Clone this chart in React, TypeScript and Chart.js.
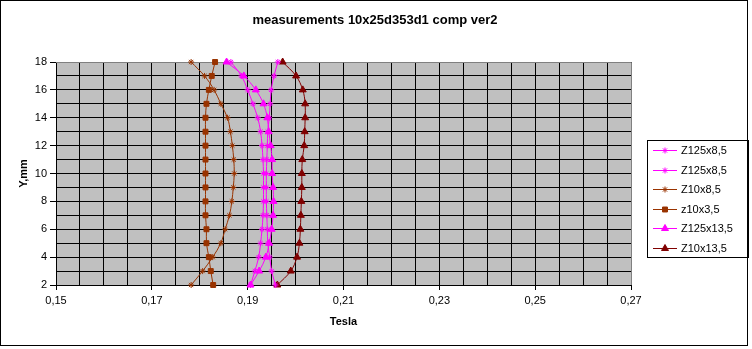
import React, { useEffect, useRef } from 'react';
import { Chart, registerables } from 'chart.js';
import { drawPoint } from 'chart.js/helpers';

Chart.register(...registerables);

// Y positions (mm) shared by all series
const yValues = [2, 3, 4, 5, 6, 7, 8, 9, 10, 11, 12, 13, 14, 15, 16, 17, 18];

// Tesla readings for each series, listed for Y = 2 .. 18
const z125x85a = [0.1906, 0.1915, 0.1923, 0.1927, 0.193, 0.1932, 0.1933, 0.1933, 0.1933, 0.1932, 0.193, 0.1927, 0.1921, 0.1911, 0.19, 0.1887, 0.1865];
const z125x85b = [0.1958, 0.195, 0.1946, 0.1942, 0.1941, 0.194, 0.1939, 0.1939, 0.1939, 0.194, 0.1941, 0.1942, 0.1945, 0.1947, 0.1949, 0.1955, 0.1963];
const z10x85 = [0.1782, 0.1806, 0.1827, 0.1844, 0.1853, 0.1862, 0.1867, 0.187, 0.1872, 0.1871, 0.1868, 0.1864, 0.1858, 0.1844, 0.183, 0.181, 0.1782];
const z10x35 = [0.1828, 0.1823, 0.1819, 0.1814, 0.1814, 0.1812, 0.1812, 0.1812, 0.1812, 0.1812, 0.1812, 0.1812, 0.1812, 0.1814, 0.1819, 0.1825, 0.1832];
const z125x135 = [0.1906, 0.1924, 0.1938, 0.1945, 0.195, 0.1953, 0.1954, 0.1953, 0.1951, 0.1951, 0.1948, 0.1944, 0.1941, 0.1933, 0.1917, 0.1892, 0.1856];
const z10x135 = [0.1962, 0.199, 0.2003, 0.2008, 0.201, 0.2011, 0.2012, 0.2013, 0.2013, 0.2014, 0.2018, 0.2019, 0.202, 0.202, 0.2015, 0.2001, 0.1973];

const chartTitle = 'measurements 10x25d353d1 comp ver2';
const seriesNames = ['Z125x8,5', 'Z125x8,5', 'Z10x8,5', 'z10x3,5', 'Z125x13,5', 'Z10x13,5'];
const seriesValues = [z125x85a, z125x85b, z10x85, z10x35, z125x135, z10x135];
const seriesColors = ['#FF00FF', '#FF00FF', '#993300', '#993300', '#FF00FF', '#800000'];
const seriesMarkers = ['star', 'star', 'star', 'rect', 'triangle', 'triangle'];
const seriesMarkerSizes = [3, 3, 3, 3.5, 4, 4];

// axis ticks
const xMajorTicks = [0.15, 0.17, 0.19, 0.21, 0.23, 0.25, 0.27];
const xTickLabels = ['0,15', '0,17', '0,19', '0,21', '0,23', '0,25', '0,27'];
const yMajorTicks = [2, 4, 6, 8, 10, 12, 14, 16, 18];
const yTickLabels = ['2', '4', '6', '8', '10', '12', '14', '16', '18'];

const FONT = "'Liberation Sans', Arial, sans-serif";

function majorIndex(list: number[], v: number) {
  return list.findIndex((m) => Math.abs(m - v) < 1e-6);
}

export default function App() {
  const ref = useRef<HTMLCanvasElement | null>(null);

  useEffect(() => {
    if (!ref.current) return;
    Chart.defaults.font.family = FONT;
    Chart.defaults.font.size = 11;
    Chart.defaults.color = '#000';

    const bgPlugin = {
      id: 'bgPlugin',
      beforeDraw(chart: any) {
        const { ctx, chartArea } = chart;
        ctx.save();
        ctx.fillStyle = '#FFFFFF';
        ctx.fillRect(0, 0, chart.width, chart.height);
        ctx.fillStyle = '#C0C0C0';
        ctx.fillRect(chartArea.left, chartArea.top, chartArea.right - chartArea.left, chartArea.bottom - chartArea.top);
        ctx.restore();
      },
      beforeDatasetsDraw(chart: any) {
        const { ctx, chartArea } = chart;
        ctx.save();
        ctx.strokeStyle = '#808080';
        ctx.lineWidth = 1;
        ctx.beginPath();
        ctx.moveTo(chartArea.left, Math.round(chartArea.top) + 0.5);
        ctx.lineTo(Math.round(chartArea.right) + 0.5, Math.round(chartArea.top) + 0.5);
        ctx.lineTo(Math.round(chartArea.right) + 0.5, chartArea.bottom);
        ctx.stroke();
        ctx.restore();
      },
      afterDraw(chart: any) {
        const { ctx } = chart;
        ctx.save();
        // title
        ctx.fillStyle = '#000';
        ctx.font = `bold 13px ${FONT}`;
        ctx.textAlign = 'center';
        ctx.textBaseline = 'middle';
        ctx.fillText(chartTitle, 375, 20);
        // outer frame
        ctx.strokeStyle = '#000';
        ctx.lineWidth = 1;
        ctx.strokeRect(0.5, 0.5, 747, 345);
        // legend
        ctx.strokeRect(647.5, 140.5, 101, 117);
        chart.data.datasets.forEach((ds: any, i: number) => {
          const y = Math.round(150 + i * 19.5) + 0.5;
          ctx.strokeStyle = ds.borderColor;
          ctx.fillStyle = ds.backgroundColor;
          ctx.lineWidth = 1;
          ctx.beginPath();
          ctx.moveTo(653, y);
          ctx.lineTo(677, y);
          ctx.stroke();
          drawPoint(ctx, { pointStyle: ds.pointStyle, radius: ds.pointRadius, borderWidth: 1, rotation: 0 } as any, 665, y);
          ctx.fillStyle = '#000';
          ctx.font = `11px ${FONT}`;
          ctx.textBaseline = 'middle';
          ctx.textAlign = 'left';
          ctx.fillText(ds.label, 681, y);
        });
        ctx.restore();
      },
    };

    const datasets = seriesNames.map((name, i) => ({
      label: name,
      data: yValues.map((y, k) => ({ x: seriesValues[i][k], y })),
      borderColor: seriesColors[i],
      backgroundColor: seriesColors[i],
      borderWidth: 1,
      pointStyle: seriesMarkers[i],
      pointRadius: seriesMarkerSizes[i],
      pointBorderWidth: 1,
      showLine: true,
      tension: 0.35,
      clip: false,
    }));

    const chart = new Chart(ref.current, {
      type: 'scatter',
      data: { datasets } as any,
      plugins: [bgPlugin],
      options: {
        animation: false,
        responsive: false,
        layout: { padding: { left: 0, top: 62, right: 121, bottom: 0 } },
        plugins: {
          legend: { display: false },
          tooltip: { enabled: false },
          title: { display: false },
        },
        scales: {
          x: {
            type: 'linear',
            min: 0.15,
            max: 0.27,
            afterFit: (s: any) => { s.height = 64; },
            ticks: {
              stepSize: 0.005,
              autoSkip: false,
              maxRotation: 0,
              padding: 4,
              font: { size: 11, family: FONT },
              color: '#000',
              callback: (v: any) => {
                const idx = majorIndex(xMajorTicks, Number(v));
                return idx >= 0 ? xTickLabels[idx] : '';
              },
            },
            grid: {
              color: '#000',
              lineWidth: 1,
              tickLength: 5,
              tickColor: (c: any) => (c.tick && majorIndex(xMajorTicks, c.tick.value) >= 0 ? '#000' : 'rgba(0,0,0,0)'),
            },
            border: { color: '#000', width: 1 },
            title: {
              display: true,
              text: 'Tesla',
              color: '#000',
              font: { size: 11, weight: 'bold', family: FONT, lineHeight: 1.2 },
              padding: { top: 0, bottom: 20 },
            },
          },
          y: {
            type: 'linear',
            min: 2,
            max: 18,
            afterFit: (s: any) => { s.width = 56; },
            ticks: {
              stepSize: 1,
              autoSkip: false,
              padding: 3,
              font: { size: 11, family: FONT },
              color: '#000',
              callback: (v: any) => {
                const idx = majorIndex(yMajorTicks, Number(v));
                return idx >= 0 ? yTickLabels[idx] : '';
              },
            },
            grid: {
              color: '#000',
              lineWidth: 1,
              tickLength: 6,
              tickColor: (c: any) => (c.tick && majorIndex(yMajorTicks, c.tick.value) >= 0 ? '#000' : 'rgba(0,0,0,0)'),
            },
            border: { color: '#000', width: 1 },
            title: {
              display: true,
              text: 'Y,mm',
              color: '#000',
              font: { size: 11, weight: 'bold', family: FONT, lineHeight: 1.2 },
              padding: { top: 17, bottom: 0 },
            },
          },
        },
      } as any,
    });
    return () => chart.destroy();
  }, []);

  return (
    <div style={{ position: 'absolute', left: 0, top: 0, width: 752, height: 349, background: '#fff' }}>
      <canvas ref={ref} width={752} height={349} style={{ width: 752, height: 349, display: 'block' }} />
    </div>
  );
}
